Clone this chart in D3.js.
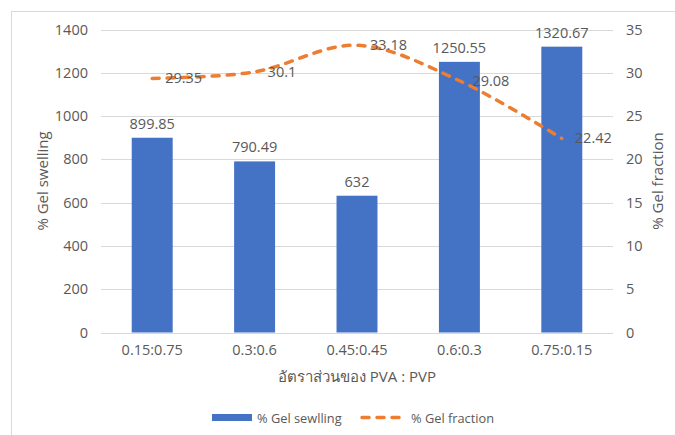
<!DOCTYPE html>
<html>
<head>
<meta charset="utf-8">
<script src="https://cdn.jsdelivr.net/npm/d3@7"></script>
<style>
  html, body { margin: 0; padding: 0; background: #fff; }
  svg text { font-family: "Open Sans", "Noto Sans", sans-serif; fill: #595959; }
</style>
</head>
<body>
<svg id="chart" width="675" height="435"></svg>
<script>
// PVA : PVP blend ratios
const categories = ["0.15:0.75", "0.3:0.6", "0.45:0.45", "0.6:0.3", "0.75:0.15"];
const gelSwelling = [899.85, 790.49, 632, 1250.55, 1320.67];
const gelFraction = [29.35, 30.1, 33.18, 29.08, 22.42];
const leftTicks = [0, 200, 400, 600, 800, 1000, 1200, 1400];
const rightTicks = [0, 5, 10, 15, 20, 25, 30, 35];

const svg = d3.select("#chart");
const W = 675, H = 435;
const plot = { left: 101, right: 613, top: 29.5, bottom: 332.5 };
const FS = "14.5px";

svg.append("rect").attr("width", W).attr("height", H).attr("fill", "#fff");
// chart frame
svg.append("rect")
  .attr("x", 11.5).attr("y", 11.5).attr("width", 800).attr("height", 600)
  .attr("fill", "none").attr("stroke", "#d9d9d9").attr("stroke-width", 1);

const x = d3.scaleBand().domain(categories).range([plot.left, plot.right]).paddingInner(0.6).paddingOuter(0.3);
const xc = d => x(d) + x.bandwidth() / 2;
const yL = d3.scaleLinear().domain([0, 1400]).range([plot.bottom, plot.top]);
const yR = d3.scaleLinear().domain([0, 35]).range([plot.bottom, plot.top]);

// gridlines
svg.append("g").selectAll("line").data(leftTicks.filter(t => t > 0)).join("line")
  .attr("x1", plot.left).attr("x2", plot.right)
  .attr("y1", d => Math.round(yL(d)) + 0.5).attr("y2", d => Math.round(yL(d)) + 0.5)
  .attr("stroke", "#d9d9d9").attr("stroke-width", 1);

// bars
svg.append("g").selectAll("rect").data(gelSwelling).join("rect")
  .attr("x", (d, i) => x(categories[i]))
  .attr("y", d => yL(d))
  .attr("width", x.bandwidth())
  .attr("height", d => yL(0) - yL(d))
  .attr("fill", "#4472c4");

// category axis line
svg.append("line")
  .attr("x1", plot.left).attr("x2", plot.right)
  .attr("y1", Math.round(plot.bottom) + 0.5).attr("y2", Math.round(plot.bottom) + 0.5)
  .attr("stroke", "#d9d9d9");

// left axis
const leftAxis = d3.axisLeft(yL).tickValues(leftTicks).tickFormat(d3.format("d")).tickSize(0).tickPadding(13);
const gl = svg.append("g").attr("transform", `translate(${plot.left},0)`).call(leftAxis);
gl.select(".domain").remove();
gl.selectAll("text").style("font-size", FS).attr("fill", "#595959");

// right axis
const rightAxis = d3.axisRight(yR).tickValues(rightTicks).tickFormat(d3.format("d")).tickSize(0).tickPadding(13);
const gr = svg.append("g").attr("transform", `translate(${plot.right},0)`).call(rightAxis);
gr.select(".domain").remove();
gr.selectAll("text").style("font-size", FS).attr("fill", "#595959");

// bottom axis
const bottomAxis = d3.axisBottom(x).tickSize(0).tickPadding(12);
const gb = svg.append("g").attr("transform", `translate(0,${plot.bottom})`).call(bottomAxis);
gb.select(".domain").remove();
gb.selectAll("text").style("font-size", FS).attr("fill", "#595959");

// bar value labels
svg.append("g").selectAll("text").data(gelSwelling).join("text")
  .attr("x", (d, i) => xc(categories[i]))
  .attr("y", d => yL(d) - 9)
  .attr("text-anchor", "middle")
  .style("font-size", FS)
  .text(d => d);

// gel fraction line
const line = d3.line()
  .x((d, i) => xc(categories[i]))
  .y(d => yR(d))
  .curve(d3.curveCardinal.tension(0));
svg.append("path").datum(gelFraction)
  .attr("d", line)
  .attr("fill", "none").attr("stroke", "#ed7d31")
  .attr("stroke-width", 3.5).attr("stroke-linecap", "round")
  .attr("stroke-dasharray", "7,8");

// line value labels
svg.append("g").selectAll("text").data(gelFraction).join("text")
  .attr("x", (d, i) => xc(categories[i]) + 13)
  .attr("y", d => yR(d) + 5)
  .style("font-size", FS)
  .text(d => d);

// axis titles
svg.append("text")
  .attr("transform", `translate(48,${(plot.top + plot.bottom) / 2}) rotate(-90)`)
  .attr("text-anchor", "middle").style("font-size", "15px")
  .text("% Gel swelling");
svg.append("text")
  .attr("transform", `translate(663,${(plot.top + plot.bottom) / 2}) rotate(-90)`)
  .attr("text-anchor", "middle").style("font-size", "15px")
  .text("% Gel fraction");
svg.append("text")
  .attr("x", (plot.left + plot.right) / 2).attr("y", 382)
  .attr("text-anchor", "middle").style("font-size", "15px")
  .text("อัตราส่วนของ PVA : PVP");

// legend
const lg = svg.append("g");
lg.append("rect").attr("x", 212).attr("y", 414).attr("width", 40).attr("height", 7).attr("fill", "#4472c4");
lg.append("text").attr("x", 257).attr("y", 423).style("font-size", "12.8px").text("% Gel sewlling");
lg.append("line").attr("x1", 362).attr("x2", 404).attr("y1", 417.5).attr("y2", 417.5)
  .attr("stroke", "#ed7d31").attr("stroke-width", 3.5).attr("stroke-linecap", "round")
  .attr("stroke-dasharray", "7,8");
lg.append("text").attr("x", 411).attr("y", 423).style("font-size", "12.8px").text("% Gel fraction");
</script>
</body>
</html>
